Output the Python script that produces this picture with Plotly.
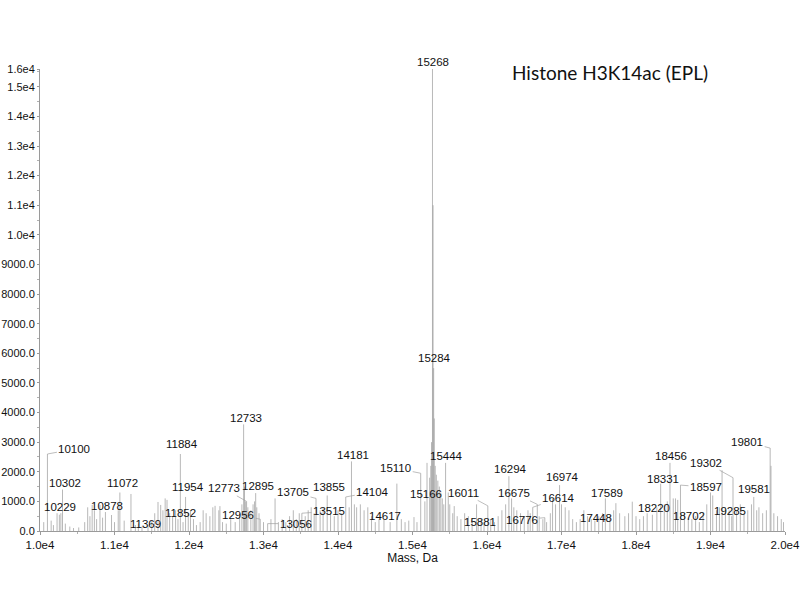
import plotly.graph_objects as go

# ---------------- data ----------------
# labelled peaks (mass in Da, intensity in counts)
label_mass = [15268, 15284, 10100, 10302, 10229, 10878, 11072, 11369, 11852, 11884,
              11954, 12733, 12773, 12895, 12956, 13056, 13515, 13705, 13855, 14104,
              14181, 14617, 15110, 15166, 15444, 15881, 16011, 16294, 16675, 16614,
              16776, 16974, 17448, 17589, 18220, 18331, 18456, 18597, 18702, 19285,
              19302, 19581, 19801]
label_height = [15600, 5500, 2600, 1400, 600, 640, 1300, 150, 400, 2600,
                1150, 3600, 1000, 1280, 400, 250, 600, 1100, 1200, 1150,
                2350, 400, 1950, 1000, 2300, 250, 850, 1850, 900, 800,
                450, 1550, 350, 1100, 550, 1600, 2300, 1550, 450, 500,
                1800, 1150, 2800]

# unlabelled peaks of the spectrum
peak_mass = [10050, 10150, 10180, 10260, 10280, 10340, 10400, 10450, 10520, 10600,
             10640, 10670, 10700, 10730, 10760, 10805, 10840, 10960, 11000, 11050,
             11130, 11221, 11280, 11320, 11450, 11500, 11540, 11584, 11620, 11650,
             11680, 11705, 11740, 11780, 11820, 11920, 11990, 12020, 12060, 12100,
             12150, 12190, 12230, 12280, 12320, 12350, 12400, 12415, 12450, 12500,
             12560, 12620, 12680, 12710, 12745, 12760, 12790, 12830, 12860, 12880,
             12910, 12940, 13000, 13100, 13155, 13200, 13250, 13300, 13350, 13400,
             13440, 13480, 13560, 13600, 13640, 13680, 13760, 13800, 13900, 13950,
             14000, 14050, 14150, 14220, 14250, 14300, 14350, 14400, 14450, 14500,
             14550, 14700, 14790, 14850, 14900, 14950, 15020, 15060, 15195, 15230,
             15245, 15255, 15276, 15292, 15305, 15320, 15340, 15360, 15380, 15400,
             15420, 15480, 15500, 15540, 15560, 15600, 15650, 15700, 15750, 15800,
             15860, 15920, 15960, 16050, 16100, 16150, 16200, 16250, 16330, 16360,
             16400, 16450, 16500, 16550, 16580, 16700, 16750, 16800, 16850, 16880,
             16920, 17000, 17050, 17100, 17150, 17200, 17250, 17300, 17350, 17400,
             17500, 17550, 17650, 17700, 17730, 17780, 17850, 17900, 17950, 18000,
             18050, 18100, 18150, 18280, 18380, 18420, 18500, 18530, 18560, 18650,
             18750, 18800, 18850, 18900, 18950, 19000, 19030, 19080, 19120, 19155,
             19200, 19250, 19350, 19400, 19450, 19500, 19550, 19620, 19650, 19700,
             19750, 19812, 19850, 19900, 19950, 19980]
peak_height = [300, 350, 200, 550, 600, 250, 150, 100, 120, 300,
               800, 500, 880, 700, 400, 880, 450, 540, 300, 700,
               350, 1250, 200, 250, 200, 350, 600, 980, 880, 700,
               1100, 1050, 600, 500, 700, 300, 600, 700, 400, 200,
               300, 700, 600, 500, 800, 850, 700, 840, 300, 250,
               400, 300, 600, 900, 1500, 1000, 800, 700, 900, 1000,
               800, 600, 300, 400, 1100, 300, 400, 300, 500, 700,
               400, 600, 500, 700, 800, 600, 700, 800, 600, 500,
               700, 600, 800, 900, 800, 900, 700, 800, 500, 300,
               400, 300, 1600, 400, 300, 350, 470, 300, 2300, 1800,
               2200, 3000, 11000, 3800, 2200, 1900, 1700, 1500, 1300, 1100,
               900, 1300, 900, 600, 840, 500, 400, 600, 500, 400,
               900, 400, 300, 400, 300, 500, 700, 900, 1100, 800,
               700, 600, 500, 700, 600, 500, 400, 300, 600, 1100,
               900, 900, 800, 700, 400, 300, 400, 700, 500, 400,
               500, 600, 500, 700, 940, 600, 500, 600, 990, 500,
               400, 500, 600, 800, 900, 1000, 1100, 1100, 1050, 600,
               400, 500, 300, 600, 900, 1300, 1200, 700, 800, 2050,
               800, 700, 700, 900, 600, 700, 900, 700, 800, 600,
               700, 2200, 600, 500, 400, 300]

x_tick_values = [10000, 11000, 12000, 13000, 14000, 15000, 16000, 17000, 18000, 19000, 20000]
x_tick_labels = ["1.0e4", "1.1e4", "1.2e4", "1.3e4", "1.4e4", "1.5e4", "1.6e4", "1.7e4", "1.8e4", "1.9e4", "2.0e4"]
y_tick_values = [0, 1000, 2000, 3000, 4000, 5000, 6000, 7000, 8000, 9000, 10000,
                 11000, 12000, 13000, 14000, 15000, 15600]
y_tick_labels = ["0.0", "1000.0", "2000.0", "3000.0", "4000.0", "5000.0", "6000.0", "7000.0",
                 "8000.0", "9000.0", "1.0e4", "1.1e4", "1.2e4", "1.3e4", "1.4e4", "1.5e4", "1.6e4"]

title_text = "Histone H3K14ac (EPL)"
x_title = "Mass, Da"

# label placement (pixel offsets: dx, dy, leader)
label_place = {
    15268: (1, -7, False), 15284: (1, -10, False), 10100: (27, -5, True),
    10302: (2.5, -7, False), 10229: (3, -6, False), 10878: (2, -6, False),
    11072: (2.5, -9.5, False), 11369: (3.5, -3, False), 11852: (3, -6, False),
    11884: (1.5, -10, False), 11954: (2.5, -10, False), 12733: (2.5, -6, False),
    12773: (-23, -13, True), 12895: (2, -7, False), 12956: (-22, -4, True),
    13056: (28, 0, True), 13515: (27, -2, True), 13705: (-23, -6, True),
    13855: (2, -8.5, False), 14104: (27, -5, True), 14181: (1.5, -6, False),
    14617: (1, -3, False), 15110: (-25, -5, True), 15166: (1, -7, False),
    15444: (0.5, -7, False), 15881: (2, -2, False), 16011: (-24, -13, True),
    16294: (2, -7, False), 16675: (-23, -11, True), 16614: (26, -9, True),
    16776: (-23, 2, True), 16974: (2.5, -8, False), 17448: (1, -3, False),
    17589: (1.5, -5.5, False), 18220: (1.5, -6.5, False), 18331: (2, -5, False),
    18456: (1, -7, False), 18597: (25.5, 2, True), 18702: (0.5, -2, False),
    19285: (-1.5, -5, False), 19302: (-27, -15, True), 19581: (0, -8, False),
    19801: (-23, -6, True),
}

# ---------------- build sticks ----------------
all_peaks = sorted(zip(label_mass + peak_mass, label_height + peak_height))
xs, ys = [], []
for m, h in all_peaks:
    xs += [m, m, None]
    ys += [0, h, None]

fig = go.Figure()
fig.add_trace(go.Scatter(x=xs, y=ys, mode="lines",
                         line=dict(color="#9a9a9a", width=0.7),
                         hoverinfo="skip", showlegend=False))

label_font = dict(family="Liberation Sans, Arial, sans-serif", size=11.5, color="#111111")
for m, h in zip(label_mass, label_height):
    dx, dy, leader = label_place[m]
    if leader:
        fig.add_annotation(x=m, y=h, text=str(m), showarrow=True, arrowhead=0,
                           arrowwidth=0.7, arrowcolor="#a0a0a0", ax=dx, ay=dy,
                           standoff=0, font=label_font)
    else:
        fig.add_annotation(x=m, y=h, text=str(m), showarrow=False,
                           xshift=dx, yshift=-dy, font=label_font)

fig.add_annotation(xref="paper", yref="paper", x=0.765, y=1.0, xanchor="center",
                   yanchor="middle", yshift=-3, text=title_text, showarrow=False,
                   font=dict(family="Lato, Open Sans, sans-serif", size=19, color="#111111"))

x_tick_font = dict(family="Liberation Sans, Arial, sans-serif", size=11.5, color="#111111")
y_tick_font = dict(family="Liberation Sans, Arial, sans-serif", size=11, color="#111111")
fig.update_layout(
    width=800, height=600,
    margin=dict(l=40, r=15, t=69, b=69),
    plot_bgcolor="white", paper_bgcolor="white",
    xaxis=dict(range=[10000, 20000], tickvals=x_tick_values, ticktext=x_tick_labels,
               automargin=False, ticklabeloverflow="allow",
               showgrid=False, zeroline=False, showline=True, linecolor="#9a9a9a",
               linewidth=1, ticks="outside", ticklen=3, tickcolor="#9a9a9a",
               tickfont=x_tick_font,
               minor=dict(dtick=500, ticks="outside", ticklen=2, tickcolor="#b0b0b0"),
               title=dict(text=x_title, font=dict(family="Liberation Sans, Arial, sans-serif",
                                                   size=12, color="#111111"), standoff=0)),
    yaxis=dict(range=[0, 15600], tickvals=y_tick_values, ticktext=y_tick_labels,
               automargin=False, ticklabeloverflow="allow",
               showgrid=False, zeroline=False, showline=True, linecolor="#9a9a9a",
               linewidth=1, ticks="outside", ticklen=2, tickcolor="#9a9a9a",
               tickfont=y_tick_font,
               minor=dict(dtick=500, ticks="outside", ticklen=2, tickcolor="#b0b0b0")),
)

fig.write_html("out.html", config={"displayModeBar": False},
               post_script="document.body.style.margin='0';document.body.style.overflow='hidden';")
